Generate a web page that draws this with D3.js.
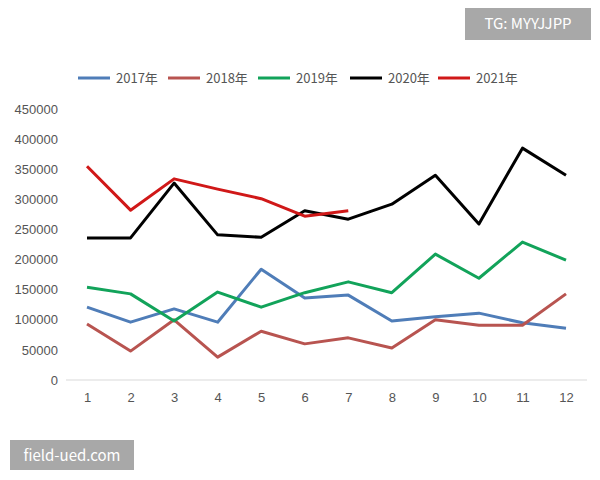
<!DOCTYPE html>
<html><head><meta charset="utf-8">
<script src="https://cdn.jsdelivr.net/npm/d3@7"></script>
<style>body{margin:0;background:#fff}svg{font-family:"Microsoft YaHei","Noto Sans CJK SC",sans-serif}</style>
</head><body><svg id="c" width="600" height="480"></svg>
<script>
const months=[1,2,3,4,5,6,7,8,9,10,11,12];
const yTicks=[0,50000,100000,150000,200000,250000,300000,350000,400000,450000];
const seriesNames=["2017年","2018年","2019年","2020年","2021年"];
const colors=["#4f7db8","#b85450","#12a35a","#000000","#d01818"];
const v2017=[121000,96000,118000,96000,184000,136000,141000,98000,105000,111000,95000,86000];
const v2018=[93000,48000,100000,38000,81000,60000,70000,53000,100000,91000,91000,143000];
const v2019=[154000,143000,98000,146000,121000,145000,163000,145000,209000,169000,229000,199000];
const v2020=[236000,236000,327000,241000,237000,281000,267000,292000,340000,259000,385000,340000];
const v2021=[355000,282000,334000,317000,301000,272000,281000];
const data=[v2017,v2018,v2019,v2020,v2021];
const svg=d3.select("#c");
const x=d3.scaleLinear().domain([1,12]).range([87,566]);
const y=d3.scaleLinear().domain([0,450000]).range([380,109]);
const ya=svg.append("g").attr("transform","translate(58,0)").call(d3.axisLeft(y).tickValues(yTicks).tickFormat(d3.format("d")).tickSize(0).tickPadding(0));
ya.select(".domain").remove();
ya.selectAll("text").attr("font-size",13).attr("fill","#555");
svg.append("line").attr("x1",66).attr("x2",587).attr("y1",380).attr("y2",380).attr("stroke","#d9d9d9");
const xa=svg.append("g").attr("transform","translate(0,380)").call(d3.axisBottom(x).tickValues(months).tickSize(0).tickPadding(13));
xa.select(".domain").remove();
xa.selectAll("text").attr("font-size",13).attr("fill","#555");
const line=d3.line().x((d,i)=>x(months[i])).y(d=>y(d));
data.forEach((s,i)=>svg.append("path").attr("d",line(s)).attr("fill","none").attr("stroke",colors[i]).attr("stroke-width",3).attr("stroke-linejoin","round"));
const lx=[78,168,258,350,438];
seriesNames.forEach((n,i)=>{
 svg.append("line").attr("x1",lx[i]).attr("x2",lx[i]+32).attr("y1",78).attr("y2",78).attr("stroke",colors[i]).attr("stroke-width",3);
 svg.append("text").attr("x",lx[i]+38).attr("y",83).attr("font-size",13).attr("fill","#555").text(n);
});
svg.append("rect").attr("x",465).attr("y",8).attr("width",126).attr("height",32).attr("fill","#999").attr("opacity",0.85);
svg.append("text").attr("x",528).attr("y",29).attr("text-anchor","middle").attr("font-size",15).attr("fill","#fff").text("TG: MYYJJPP");
svg.append("rect").attr("x",10).attr("y",440).attr("width",124).attr("height",30).attr("fill","#999").attr("opacity",0.85);
svg.append("text").attr("x",72).attr("y",461).attr("text-anchor","middle").attr("font-size",15).attr("fill","#fff").text("field-ued.com");
</script></body></html>
